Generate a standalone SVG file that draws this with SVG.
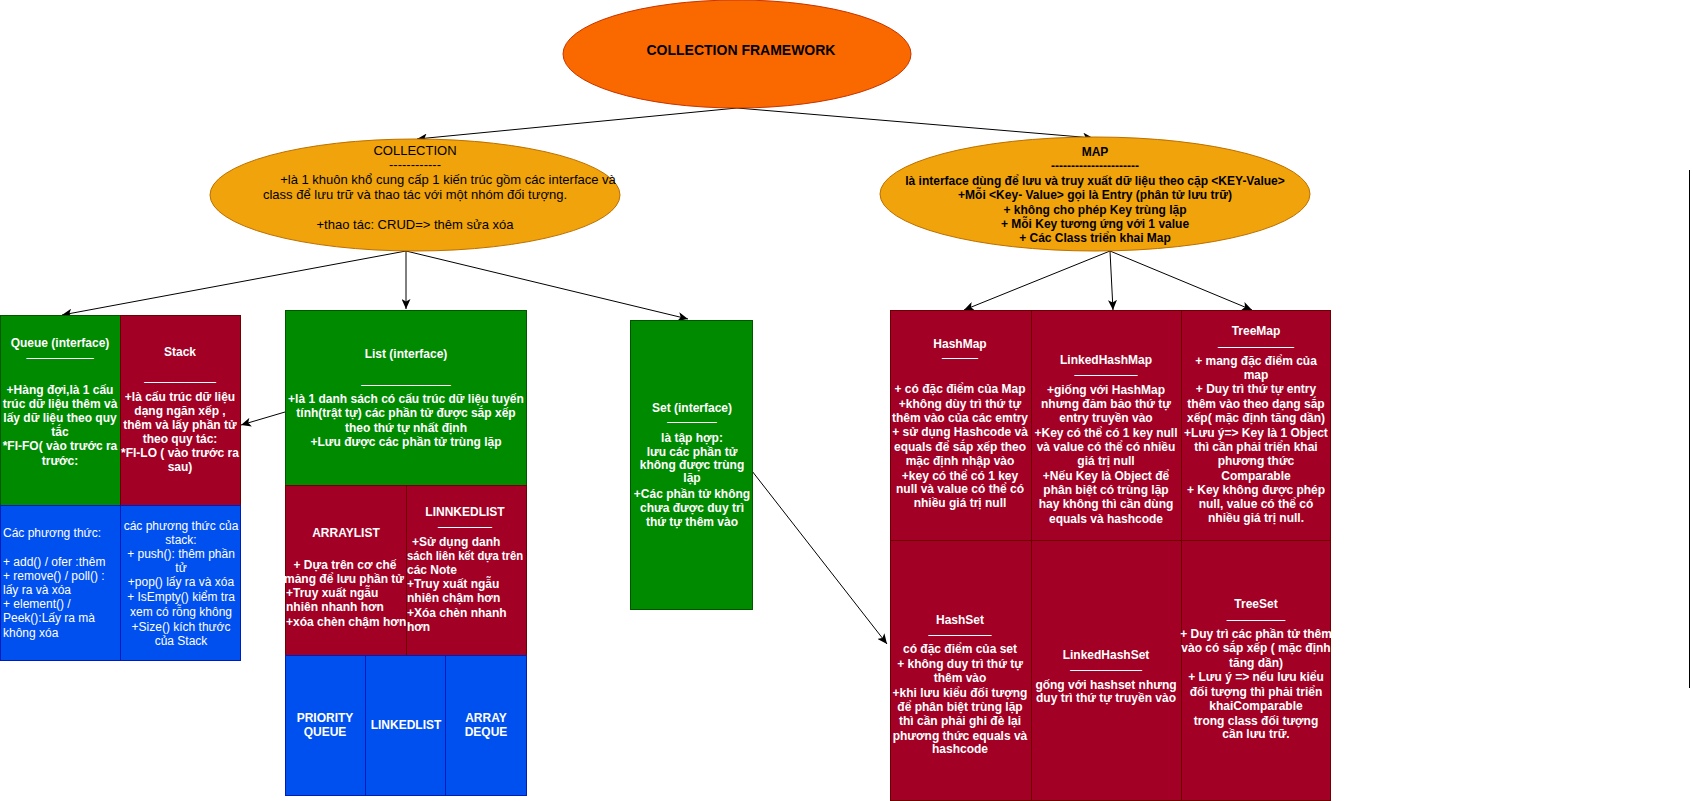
<svg xmlns="http://www.w3.org/2000/svg" width="1692" height="801" viewBox="0 0 1692 801">
<style>
text{font-family:"Liberation Sans",Arial,Helvetica,sans-serif;font-size:12px}
.w{fill:#fff;font-weight:bold;text-anchor:middle}
.wl{fill:#fff;font-weight:bold;text-anchor:start}
.wn{fill:#fff;text-anchor:start}
.wnc{fill:#fff;text-anchor:middle}
.sep{fill:#fff;stroke:#fff;stroke-width:0.35;font-size:8px;text-anchor:middle}
.k{fill:#000;text-anchor:middle;font-size:13px}
.kb{fill:#000;font-weight:bold;text-anchor:middle}
.t{fill:#000;font-weight:bold;text-anchor:middle;font-size:14px}
.g{fill:#008a00;stroke:#005700}
.r{fill:#a20025;stroke:#6f0000}
.b{fill:#0050ef;stroke:#001dbc}
.o{fill:#f0a30a;stroke:#bd7000}
.edge{fill:none;stroke:#000;stroke-width:1;marker-end:url(#arr)}
</style>
<defs>
<marker id="arr" markerUnits="userSpaceOnUse" markerWidth="11" markerHeight="9" refX="10" refY="4.5" orient="auto">
<path d="M0,0 L10,4.5 L0,9 L2.5,4.5 z" fill="#000"/>
</marker>
</defs>
<rect width="1692" height="801" fill="#fff"/>

<g id="connectors">
<line class="edge" x1="737" y1="108" x2="417" y2="139"/>
<line class="edge" x1="737" y1="108" x2="1093" y2="138"/>
<line class="edge" x1="406" y1="251" x2="62" y2="315"/>
<line class="edge" x1="406" y1="251" x2="406" y2="309"/>
<line class="edge" x1="406" y1="251" x2="688" y2="319"/>
<line class="edge" x1="285" y1="412" x2="241" y2="425"/>
<line class="edge" x1="752" y1="471" x2="887" y2="644"/>
<line class="edge" x1="1110" y1="251" x2="964" y2="310"/>
<line class="edge" x1="1110" y1="251" x2="1113" y2="310"/>
<line class="edge" x1="1110" y1="251" x2="1252" y2="310"/>
</g>

<g id="collection-framework">
<ellipse cx="737" cy="54" rx="174" ry="54" fill="#fa6800" stroke="#c73500"/>
<text class="t" x="741" y="55">COLLECTION FRAMEWORK</text>
</g>

<g id="collection">
<ellipse class="o" cx="415" cy="195" rx="205" ry="56"/>
<text class="k" x="415" y="155">COLLECTION</text>
<text class="k" x="415" y="169">------------</text>
<text class="k" x="448" y="184">+là 1 khuôn khổ cung cấp 1 kiến trúc gồm các interface và</text>
<text class="k" x="415" y="199">class để lưu trữ và thao tác với một nhóm đối tượng.</text>
<text class="k" x="415" y="229">+thao tác: CRUD=&gt; thêm sửa xóa</text>
</g>

<g id="map">
<ellipse class="o" cx="1095" cy="194" rx="215" ry="57"/>
<text class="kb" x="1095" y="156">MAP</text>
<text class="kb" x="1095" y="170">----------------------</text>
<text class="kb" x="1095" y="185">là interface dùng để lưu và truy xuất dữ liệu theo cặp &lt;KEY-Value&gt;</text>
<text class="kb" x="1095" y="199">+Mỗi &lt;Key- Value&gt; gọi là Entry (phân tử lưu trữ)</text>
<text class="kb" x="1095" y="214">+ không cho phép Key trùng lặp</text>
<text class="kb" x="1095" y="228">+ Mỗi Key tương ứng với 1 value</text>
<text class="kb" x="1095" y="242">+ Các Class triển khai Map</text>
</g>

<g id="queue">
<rect class="g" x="0.5" y="315.5" width="120" height="190"/>
<text class="w" x="60" y="347">Queue (interface)</text>
<text class="sep" x="60" y="357">_______________</text>
<text class="w" x="60" y="394">+Hàng đợi,là 1 cấu</text>
<text class="w" x="60" y="408">trúc dữ liệu thêm và</text>
<text class="w" x="60" y="422">lấy dữ liệu theo quy</text>
<text class="w" x="60" y="436">tắc</text>
<text class="w" x="60" y="450">*FI-FO( vào trước ra</text>
<text class="w" x="60" y="465">trước:</text>
</g>

<g id="stack">
<rect class="r" x="120.5" y="315.5" width="120" height="190"/>
<text class="w" x="180" y="356">Stack</text>
<text class="sep" x="180" y="381">________________</text>
<text class="w" x="180" y="401">+là cấu trúc dữ liệu</text>
<text class="w" x="180" y="415">dạng ngăn xếp ,</text>
<text class="w" x="180" y="429">thêm và lấy phần tử</text>
<text class="w" x="180" y="443">theo quy tác:</text>
<text class="w" x="180" y="457">*FI-LO ( vào trước ra</text>
<text class="w" x="180" y="471">sau)</text>
</g>

<g id="queue-methods">
<rect class="b" x="0.5" y="505.5" width="120" height="155"/>
<text class="wn" x="3" y="537">Các phương thức:</text>
<text class="wn" x="3" y="566">+ add() / ofer :thêm</text>
<text class="wn" x="3" y="580">+ remove() / poll() :</text>
<text class="wn" x="3" y="594">lấy ra và xóa</text>
<text class="wn" x="3" y="608">+ element() /</text>
<text class="wn" x="3" y="622">Peek():Lấy ra mà</text>
<text class="wn" x="3" y="637">không xóa</text>
</g>

<g id="stack-methods">
<rect class="b" x="120.5" y="505.5" width="120" height="155"/>
<text class="wnc" x="181" y="530">các phương thức của</text>
<text class="wnc" x="181" y="544">stack:</text>
<text class="wnc" x="181" y="558">+ push(): thêm phần</text>
<text class="wnc" x="181" y="572">tử</text>
<text class="wnc" x="181" y="586">+pop() lấy ra và xóa</text>
<text class="wnc" x="181" y="601">+ IsEmpty() kiểm tra</text>
<text class="wnc" x="181" y="616">xem có rỗng không</text>
<text class="wnc" x="181" y="631">+Size() kích thước</text>
<text class="wnc" x="181" y="645">của Stack</text>
</g>

<g id="list">
<rect class="g" x="285.5" y="310.5" width="241" height="175"/>
<text class="w" x="406" y="358">List (interface)</text>
<text class="sep" x="406" y="384">____________________</text>
<text class="w" x="406" y="403">+là 1 danh sách có cấu trúc dữ liệu tuyến</text>
<text class="w" x="406" y="417">tính(trật tự) các phần tử được sắp xếp</text>
<text class="w" x="406" y="432">theo thứ tự nhất định</text>
<text class="w" x="406" y="446">+Lưu được các phần tử trùng lặp</text>
</g>

<g id="arraylist">
<rect class="r" x="285.5" y="485.5" width="121" height="170"/>
<text class="w" x="346" y="537">ARRAYLIST</text>
<text class="w" x="345" y="569">+ Dựa trên cơ chế</text>
<text class="w" x="344" y="583">mảng để lưu phần tử</text>
<text class="wl" x="286" y="597">+Truy xuất ngẫu</text>
<text class="wl" x="286" y="611">nhiên nhanh hơn</text>
<text class="wl" x="286" y="626">+xóa chèn chậm hơn</text>
</g>

<g id="linnkedlist">
<rect class="r" x="406.5" y="485.5" width="120" height="170"/>
<text class="w" x="465" y="516">LINNKEDLIST</text>
<text class="sep" x="465" y="526">____________</text>
<text class="wl" x="412" y="546">+Sử dụng danh</text>
<text class="wl" x="407" y="560" textLength="116" lengthAdjust="spacingAndGlyphs">sách liên kết dựa trên</text>
<text class="wl" x="407" y="574">các Note</text>
<text class="wl" x="407" y="588">+Truy xuất ngẫu</text>
<text class="wl" x="407" y="602">nhiên chậm hơn</text>
<text class="wl" x="407" y="617">+Xóa chèn nhanh</text>
<text class="wl" x="407" y="631">hơn</text>
</g>

<g id="priority-queue">
<rect class="b" x="285.5" y="655.5" width="80" height="140"/>
<text class="w" x="325" y="722">PRIORITY</text>
<text class="w" x="325" y="736">QUEUE</text>
</g>

<g id="linkedlist">
<rect class="b" x="365.5" y="655.5" width="80" height="140"/>
<text class="w" x="406" y="729">LINKEDLIST</text>
</g>

<g id="array-deque">
<rect class="b" x="445.5" y="655.5" width="81" height="140"/>
<text class="w" x="486" y="722">ARRAY</text>
<text class="w" x="486" y="736">DEQUE</text>
</g>

<g id="set">
<rect class="g" x="630.5" y="320.5" width="122" height="289"/>
<text class="w" x="692" y="412">Set (interface)</text>
<text class="sep" x="692" y="421">___________</text>
<text class="w" x="692" y="442">là tập hợp:</text>
<text class="w" x="692" y="456">lưu các phần tử</text>
<text class="w" x="692" y="469">không được trùng</text>
<text class="w" x="692" y="482">lặp</text>
<text class="w" x="692" y="498">+Các phần tử không</text>
<text class="w" x="692" y="512">chưa được duy trì</text>
<text class="w" x="692" y="526">thứ tự thêm vào</text>
</g>

<g id="hashmap">
<rect class="r" x="890.5" y="310.5" width="141" height="230"/>
<text class="w" x="960" y="348">HashMap</text>
<text class="sep" x="960" y="357">________</text>
<text class="w" x="960" y="393">+ có đặc điểm của Map</text>
<text class="w" x="960" y="408">+không dùy trì thứ tự</text>
<text class="w" x="960" y="422">thêm vào của các emtry</text>
<text class="w" x="960" y="436">+ sử dụng Hashcode và</text>
<text class="w" x="960" y="451">equals để sắp xếp theo</text>
<text class="w" x="960" y="465">mặc định nhập vào</text>
<text class="w" x="960" y="480">+key có thể có 1 key</text>
<text class="w" x="960" y="493">null và value có thể có</text>
<text class="w" x="960" y="507">nhiều giá trị null</text>
</g>

<g id="linkedhashmap">
<rect class="r" x="1031.5" y="310.5" width="150" height="230"/>
<text class="w" x="1106" y="364">LinkedHashMap</text>
<text class="sep" x="1106" y="374">______________</text>
<text class="w" x="1106" y="394">+giống với HashMap</text>
<text class="w" x="1106" y="408">nhưng đảm bảo thứ tự</text>
<text class="w" x="1106" y="422">entry truyền vào</text>
<text class="w" x="1106" y="437">+Key có thể có 1 key null</text>
<text class="w" x="1106" y="451">và value có thể có nhiều</text>
<text class="w" x="1106" y="465">giá trị null</text>
<text class="w" x="1106" y="480">+Nếu Key là Object để</text>
<text class="w" x="1106" y="494">phân biệt có trùng lặp</text>
<text class="w" x="1106" y="508">hay không thì cần dùng</text>
<text class="w" x="1106" y="523">equals và hashcode</text>
</g>

<g id="treemap">
<rect class="r" x="1181.5" y="310.5" width="149" height="230"/>
<text class="w" x="1256" y="335">TreeMap</text>
<text class="sep" x="1256" y="346">_________________</text>
<text class="w" x="1256" y="365">+ mang đặc điểm của</text>
<text class="w" x="1256" y="379">map</text>
<text class="w" x="1256" y="393">+ Duy trì thứ tự entry</text>
<text class="w" x="1256" y="408">thêm vào theo dạng sắp</text>
<text class="w" x="1256" y="422">xếp( mặc định tăng dần)</text>
<text class="w" x="1256" y="437">+Lưu ý=&gt; Key là 1 Object</text>
<text class="w" x="1256" y="451">thì cần phải triển khai</text>
<text class="w" x="1256" y="465">phương thức</text>
<text class="w" x="1256" y="480">Comparable</text>
<text class="w" x="1256" y="494">+ Key không được phép</text>
<text class="w" x="1256" y="508">null, value có thể có</text>
<text class="w" x="1256" y="522">nhiều giá trị null.</text>
</g>

<g id="hashset">
<rect class="r" x="890.5" y="540.5" width="141" height="260"/>
<text class="w" x="960" y="624">HashSet</text>
<text class="sep" x="960" y="634">______________</text>
<text class="w" x="960" y="653">có đặc điểm của set</text>
<text class="w" x="960" y="668">+ không duy trì thứ tự</text>
<text class="w" x="960" y="682">thêm vào</text>
<text class="w" x="960" y="697">+khi lưu kiểu đối tượng</text>
<text class="w" x="960" y="711">để phân biệt trùng lặp</text>
<text class="w" x="960" y="725">thì cần phải ghi đè lại</text>
<text class="w" x="960" y="740">phương thức equals và</text>
<text class="w" x="960" y="753">hashcode</text>
</g>

<g id="linkedhashset">
<rect class="r" x="1031.5" y="540.5" width="150" height="260"/>
<text class="w" x="1106" y="659">LinkedHashSet</text>
<text class="sep" x="1106" y="669">________________</text>
<text class="w" x="1106" y="689">gống với hashset nhưng</text>
<text class="w" x="1106" y="702">duy trì thứ tự truyền vào</text>
</g>

<g id="treeset">
<rect class="r" x="1181.5" y="540.5" width="149" height="260"/>
<text class="w" x="1256" y="608">TreeSet</text>
<text class="sep" x="1256" y="619">_____________</text>
<text class="w" x="1256" y="638">+ Duy trì các phần tử thêm</text>
<text class="w" x="1256" y="652">vào có sắp xếp ( mặc định</text>
<text class="w" x="1256" y="667">tăng dần)</text>
<text class="w" x="1256" y="681">+ Lưu ý =&gt; nếu lưu kiểu</text>
<text class="w" x="1256" y="696">đối tượng thì phải triển</text>
<text class="w" x="1256" y="710">khaiComparable</text>
<text class="w" x="1256" y="725">trong class đối tượng</text>
<text class="w" x="1256" y="738">cần lưu trữ.</text>
</g>

<g id="divider">
<line x1="1689.5" y1="170" x2="1689.5" y2="688" stroke="#000" stroke-width="1"/>
</g>
</svg>
